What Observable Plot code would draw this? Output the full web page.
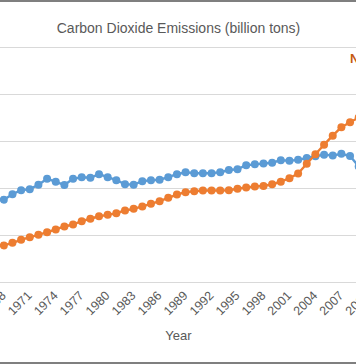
<!DOCTYPE html>
<html>
<head>
<meta charset="utf-8">
<script src="https://cdn.jsdelivr.net/npm/d3@7"></script>
<script src="https://cdn.jsdelivr.net/npm/@observablehq/plot@0.6"></script>
<style>
  html, body { margin: 0; padding: 0; background: #fff; }
  #chart { width: 356px; height: 364px; overflow: hidden; position: relative; box-sizing: border-box; border-top: 2px solid #7f7f7f; border-bottom: 2px solid #7f7f7f; }
  #chart svg { position: absolute; top: -2px; left: 0; overflow: hidden; }
</style>
</head>
<body>
<div id="chart"></div>
<script>
const years = [1968,1969,1970,1971,1972,1973,1974,1975,1976,1977,1978,1979,1980,1981,1982,1983,1984,1985,1986,1987,1988,1989,1990,1991,1992,1993,1994,1995,1996,1997,1998,1999,2000,2001,2002,2003,2004,2005,2006,2007,2008,2009];
const blueValues = [8.81,9.39,9.82,9.93,10.40,11.03,10.72,10.37,11.03,11.20,11.14,11.52,11.20,10.88,10.46,10.40,10.78,10.88,10.93,11.20,11.52,11.73,11.63,11.63,11.63,11.73,11.97,12.05,12.48,12.57,12.66,12.74,13.01,12.95,13.05,13.24,13.43,13.60,13.51,13.69,13.46,12.34];
const orangeValues = [3.94,4.22,4.54,4.82,5.07,5.35,5.64,5.96,6.17,6.52,6.78,7.05,7.20,7.37,7.66,7.84,8.09,8.37,8.65,9.01,9.36,9.61,9.71,9.79,9.79,9.79,9.82,9.97,10.11,10.21,10.27,10.45,10.72,11.09,11.60,12.63,13.64,14.66,15.62,16.52,17.05,17.55];
const tickYears = [1968,1971,1974,1977,1980,1983,1986,1989,1992,1995,1998,2001,2004,2007,2010];
const gridValues = [0,5,10,15,20,25];
const title = "Carbon Dioxide Emissions (billion tons)";
const xTitle = "Year";
const seriesLabel = {year: 2008, value: 23.83, text: "Non-OECD"};

const blue = years.map((y, i) => ({year: y, value: blueValues[i]}));
const orange = years.map((y, i) => ({year: y, value: orangeValues[i]}));

const BLUE = "#5B9BD5", ORANGE = "#ED7D31", GRID = "#D9D9D9", TEXT = "#595959";
const FONT = "'Liberation Sans', Arial, sans-serif";

const chart = Plot.plot({
  width: 356,
  height: 364,
  marginTop: 47,
  marginBottom: 82,
  marginLeft: 0,
  marginRight: 0,
  style: {fontFamily: FONT, background: "#fff", color: TEXT},
  x: {domain: [1968, 2009], range: [3.3, 358.2]},
  y: {domain: [0, 25], axis: null},
  marks: [
    Plot.ruleY(gridValues, {stroke: GRID, strokeWidth: 1}),
    Plot.axisX({
      ticks: tickYears,
      tickFormat: d3.format("d"),
      tickRotate: -45,
      tickSize: 0,
      tickPadding: 11,
      fontSize: 12.5,
      fill: TEXT,
      label: null
    }),
    Plot.line(blue, {x: "year", y: "value", stroke: BLUE, strokeWidth: 2.4}),
    Plot.dot(blue, {x: "year", y: "value", r: 4, fill: BLUE, stroke: "none"}),
    Plot.line(orange, {x: "year", y: "value", stroke: ORANGE, strokeWidth: 2.4}),
    Plot.dot(orange, {x: "year", y: "value", r: 4, fill: ORANGE, stroke: "none"}),
    Plot.text([seriesLabel], {x: "year", y: "value", text: "text", textAnchor: "start", fill: "#C55A11", fontWeight: "bold", fontSize: 13}),
    Plot.text([title], {text: d => d, frameAnchor: "top", dy: -24, fontSize: 14, fill: TEXT}),
    Plot.text([xTitle], {text: d => d, frameAnchor: "bottom", dy: 57, fontSize: 13, fill: TEXT})
  ]
});
document.getElementById("chart").appendChild(chart);
</script>
</body>
</html>
